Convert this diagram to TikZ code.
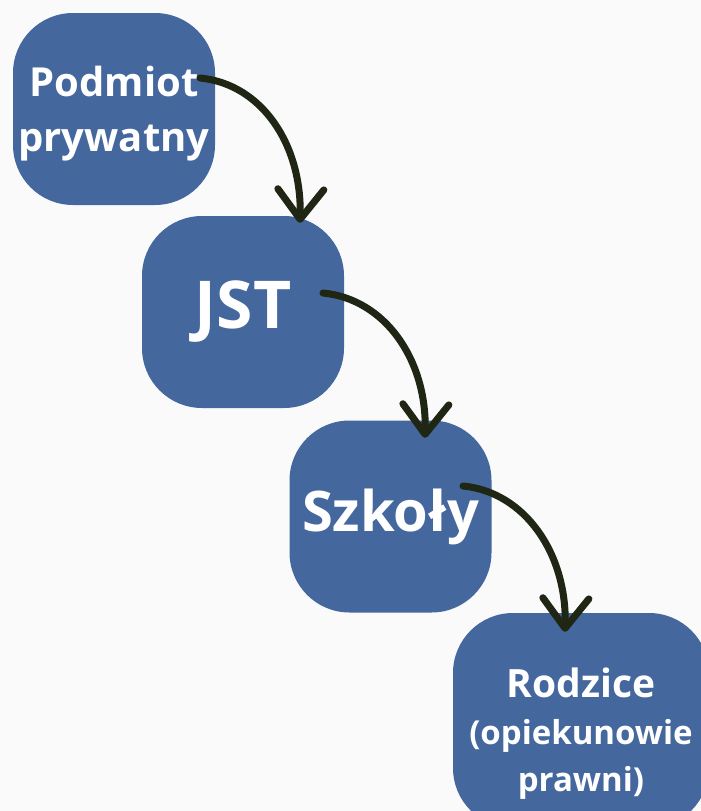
\documentclass[tikz,border=0pt]{standalone}
\usepackage{fontspec}
\setmainfont{Open Sans}
\usetikzlibrary{arrows.meta,calc}
\definecolor{planBlue}{RGB}{68, 104, 157}
\definecolor{planArrow}{RGB}{31, 38, 19}
\definecolor{planBg}{RGB}{250, 250, 250}

\begin{document}
\begin{tikzpicture}[x=1pt,y=-1pt,
  blok/.style={fill=planBlue, rounded corners=60pt, minimum width=202pt,
    minimum height=192pt, inner sep=0pt, text=white, align=center},
  strzalka/.style={draw=planArrow, line width=7pt, line cap=round,
    -{Straight Barb[length=30pt,width=46pt,round]}}]
% Background and frame
\fill[planBg] (0,0) rectangle (701,811);
\useasboundingbox (0,0) rectangle (701,811);
\clip (0,0) rectangle (701,811);

% Boxes
\node[blok, font=\bfseries\fontsize{40}{55}\selectfont] (pod) at (114,109)
  {\rule{0pt}{39pt}Podmiot\\prywatny};
\node[blok, font=\bfseries\fontsize{66}{70}\selectfont] (jst) at (243,312) {JST};
\node[blok, font=\bfseries\fontsize{56}{60}\selectfont] (szk) at (390.5,516.5) {Szkoły};
\node[blok, minimum width=256pt, minimum height=215pt,
  font=\bfseries\fontsize{33}{47}\selectfont] (rod) at (581,720.5)
  {\rule{0pt}{55pt}{\fontsize{39}{47}\selectfont Rodzice}\\(opiekunowie\\prawni)};

% Arrow ends
\coordinate (s1) at ($(pod.center)+(86,-31)$);
\coordinate (t1) at ($(jst.north)+(57,7)$);
\coordinate (s2) at ($(jst.center)+(80,-19)$);
\coordinate (t2) at ($(szk.north)+(34.5,17.5)$);
\coordinate (s3) at ($(szk.center)+(72.5,-30.5)$);
\coordinate (t3) at ($(rod.north)+(-16,19)$);

% Arrows
\draw[strzalka] (s1) .. controls +(62,6) and +(2,-78) .. (t1);
\draw[strzalka] (s2) .. controls +(62,6) and +(2,-78) .. (t2);
\draw[strzalka] (s3) .. controls +(62,6) and +(2,-78) .. (t3);
\end{tikzpicture}
\end{document}
